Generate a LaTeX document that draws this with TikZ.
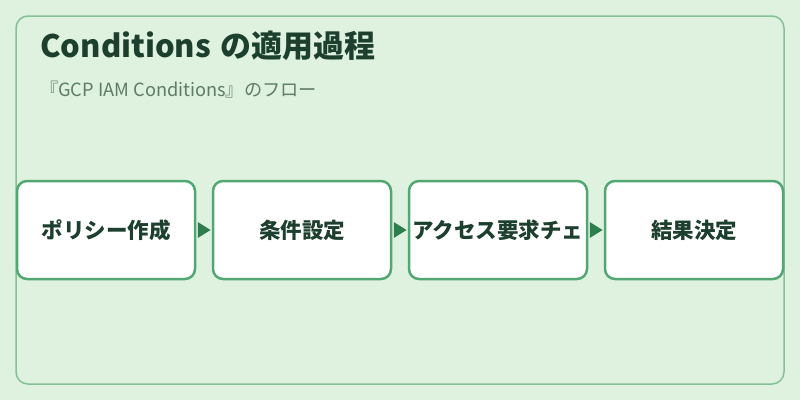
\documentclass[tikz,border=0pt]{standalone}
\usepackage{fontspec}
\setmainfont{Noto Sans CJK JP}
\usetikzlibrary{calc}
\definecolor{bgcol}{HTML}{DFF1DF}
\definecolor{framecol}{HTML}{86C196}
\definecolor{boxcol}{HTML}{52A872}
\definecolor{arrowcol}{HTML}{2E7D4F}
\definecolor{titlecol}{HTML}{1C3F2E}
\definecolor{subcol}{HTML}{5E7C68}
\tikzset{
  stepbox/.style={draw=boxcol, line width=2.5pt, fill=white, rounded corners=10pt,
    minimum width=178pt, minimum height=98pt, inner sep=0pt,
    font=\fontsize{21.5}{26}\selectfont\bfseries, text=titlecol},
  flowhead/.style={fill=arrowcol},
}
\begin{document}
\begin{tikzpicture}[x=1pt,y=-1pt]
\fill[bgcol] (0,0) rectangle (800,400);
\useasboundingbox (0,0) rectangle (800,400);
\draw[framecol, line width=1.5pt, rounded corners=12pt] (16,16) rectangle (784,384);
\node[anchor=base west, inner sep=0pt, text=titlecol, font=\fontsize{31}{37}\selectfont\bfseries] (title) at (40,57) {Conditions\hspace{2pt} の適用過程};
\node[anchor=base west, inner sep=0pt, text=subcol, font=\fontsize{18.2}{22}\selectfont] (sub) at (40,96) {『GCP IAM Conditions』のフロー};
\node[stepbox] (b1) at (106,230) {ポリシー作成};
\node[stepbox] (b2) at (302,230) {条件設定};
\node[stepbox] (b3) at (498,230) {アクセス要求チェ};
\node[stepbox] (b4) at (694,230) {結果決定};
\foreach \a/\b in {b1/b2,b2/b3,b3/b4}{
  \fill[flowhead] ($(\a.east)+(1.5,-8)$) -- ($(\b.west)+(-1.2,0)$) -- ($(\a.east)+(1.5,8)$) -- cycle;
}
\end{tikzpicture}
\end{document}
